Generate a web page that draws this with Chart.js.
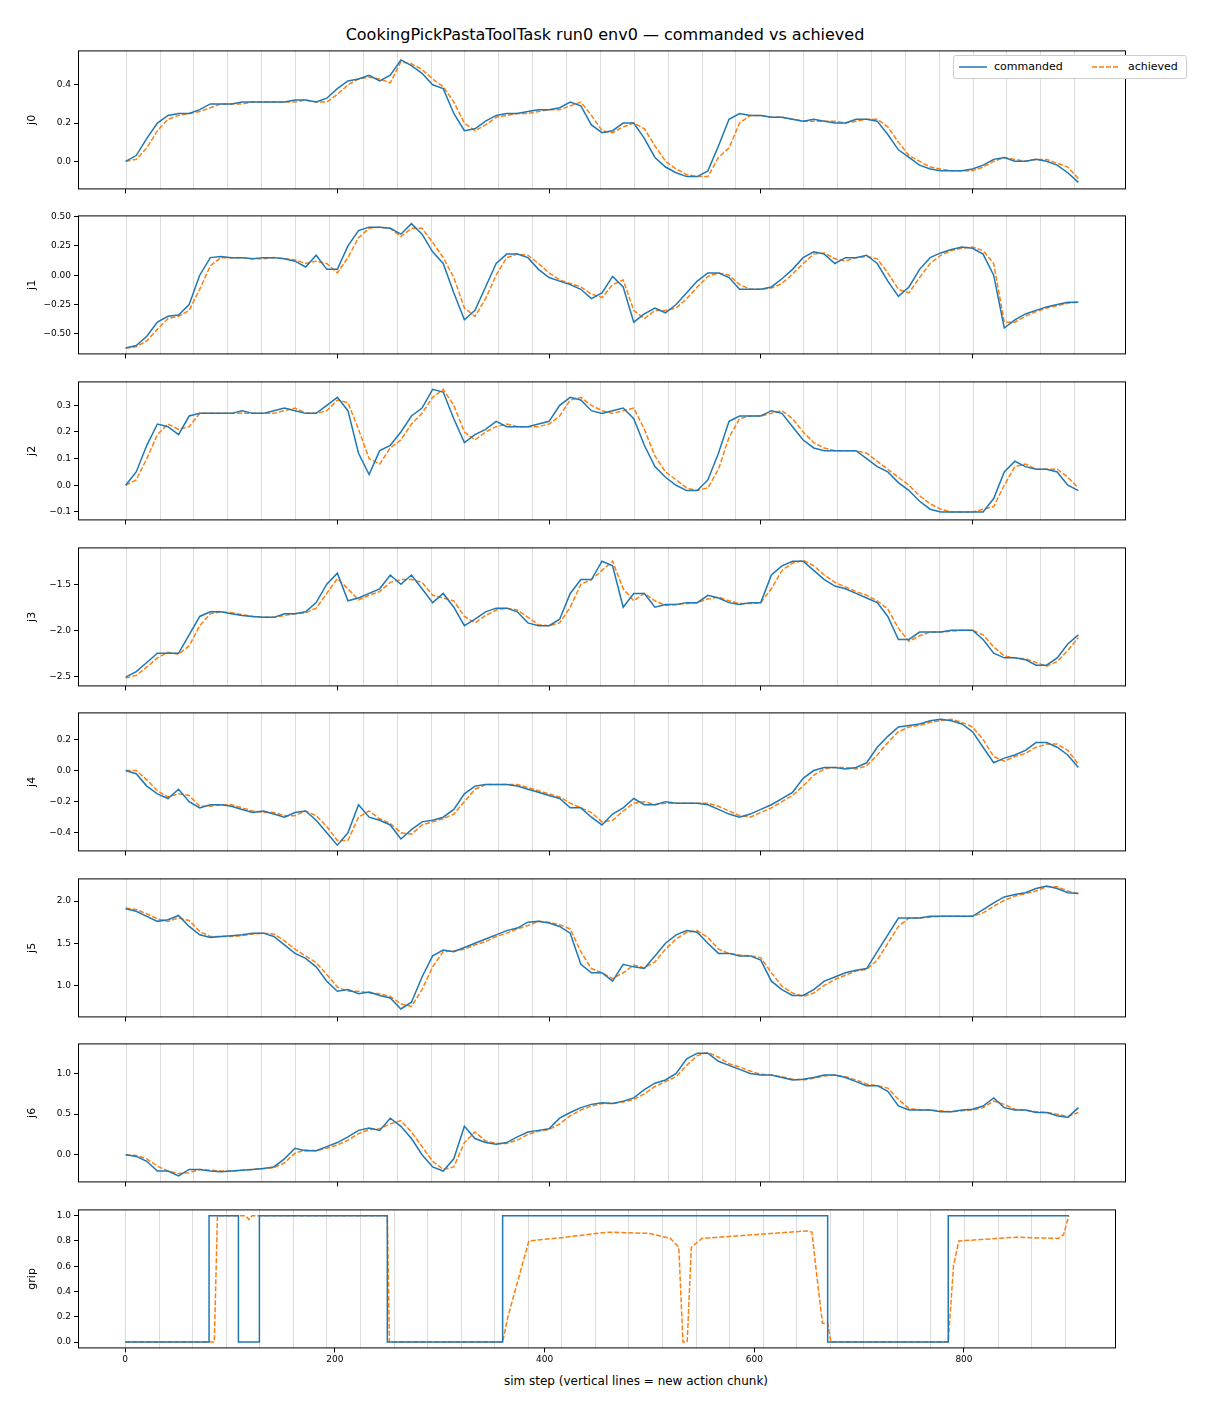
<!DOCTYPE html>
<html><head><meta charset="utf-8">
<script src="https://cdn.jsdelivr.net/npm/chart.js@4"></script>
<style>
body{margin:0;background:#fff;font-family:"DejaVu Sans",sans-serif;}
canvas{position:absolute;left:0;}
#title{position:absolute;top:25px;left:0;width:1210px;text-align:center;font-size:16px;}
#xlabel{position:absolute;top:1374px;left:78px;width:1116px;text-align:center;font-size:12px;}
#legend{position:absolute;left:953px;top:55px;width:232px;height:22px;border:1px solid #ccc;border-radius:3px;background:#fff;font-size:11px;z-index:5}
</style></head><body>
<div id="title">CookingPickPastaToolTask run0 env0 — commanded vs achieved</div>
<div id="xlabel">sim step (vertical lines = new action chunk)</div>
<div id="legend">
<svg width="232" height="22" style="position:absolute;left:0;top:0">
<line x1="5" y1="11" x2="33" y2="11" stroke="#1f77b4" stroke-width="1.5"/>
<line x1="138" y1="11" x2="166" y2="11" stroke="#ff7f0e" stroke-width="1.5" stroke-dasharray="5,2"/>
</svg>
<span style="position:absolute;left:40px;top:4px">commanded</span>
<span style="position:absolute;left:174px;top:4px">achieved</span>
</div>
<script>
const STEPS=[0,10,20,30,40,50,60,70,80,90,100,110,120,130,140,150,160,170,180,190,200,210,220,230,240,250,260,270,280,290,300,310,320,330,340,350,360,370,380,390,400,410,420,430,440,450,460,470,480,490,500,510,520,530,540,550,560,570,580,590,600,610,620,630,640,650,660,670,680,690,700,710,720,730,740,750,760,770,780,790,800,810,820,830,840,850,860,870,880,890,900];
const j0_cmd=[0.0,0.03,0.12,0.2,0.24,0.25,0.25,0.27,0.30,0.30,0.30,0.31,0.31,0.31,0.31,0.31,0.32,0.32,0.31,0.33,0.38,0.42,0.43,0.45,0.42,0.45,0.53,0.50,0.46,0.40,0.38,0.25,0.16,0.17,0.21,0.24,0.25,0.25,0.26,0.27,0.27,0.28,0.31,0.29,0.19,0.15,0.16,0.20,0.20,0.12,0.02,-0.03,-0.06,-0.08,-0.08,-0.05,0.08,0.22,0.25,0.24,0.24,0.23,0.23,0.22,0.21,0.22,0.21,0.20,0.20,0.22,0.22,0.21,0.14,0.06,0.02,-0.02,-0.04,-0.05,-0.05,-0.05,-0.04,-0.02,0.01,0.02,0.00,0.00,0.01,0.00,-0.02,-0.06,-0.11];
const j0_ach=[0,0.01,0.07,0.16,0.22,0.24,0.25,0.26,0.28,0.30,0.30,0.30,0.31,0.31,0.31,0.31,0.31,0.32,0.31,0.31,0.35,0.40,0.43,0.44,0.43,0.41,0.52,0.51,0.48,0.43,0.39,0.31,0.20,0.16,0.19,0.23,0.24,0.25,0.25,0.26,0.27,0.27,0.29,0.31,0.24,0.16,0.15,0.18,0.20,0.17,0.08,0.0,-0.04,-0.07,-0.08,-0.08,0.02,0.07,0.20,0.24,0.24,0.23,0.23,0.22,0.21,0.21,0.21,0.21,0.20,0.21,0.22,0.22,0.18,0.10,0.03,0.0,-0.03,-0.04,-0.05,-0.05,-0.05,-0.03,0.00,0.02,0.01,0.00,0.01,0.01,-0.01,-0.03,-0.09];
const j1_cmd=[-0.62,-0.60,-0.52,-0.40,-0.35,-0.34,-0.25,0.0,0.15,0.16,0.15,0.15,0.14,0.15,0.15,0.14,0.12,0.07,0.17,0.05,0.05,0.25,0.38,0.41,0.41,0.40,0.35,0.44,0.35,0.20,0.10,-0.15,-0.38,-0.30,-0.10,0.10,0.18,0.18,0.15,0.05,-0.02,-0.05,-0.08,-0.12,-0.20,-0.15,-0.01,-0.10,-0.40,-0.33,-0.28,-0.32,-0.25,-0.15,-0.05,0.02,0.02,-0.02,-0.12,-0.12,-0.12,-0.10,-0.03,0.05,0.15,0.20,0.18,0.10,0.15,0.15,0.17,0.10,-0.05,-0.18,-0.10,0.05,0.15,0.19,0.22,0.24,0.23,0.18,0.00,-0.45,-0.38,-0.33,-0.30,-0.27,-0.25,-0.23,-0.23];
const j1_ach=[-0.62,-0.61,-0.56,-0.46,-0.37,-0.35,-0.30,-0.12,0.08,0.15,0.15,0.15,0.14,0.14,0.15,0.14,0.13,0.10,0.12,0.10,0.02,0.15,0.32,0.40,0.41,0.40,0.33,0.40,0.40,0.28,0.15,-0.02,-0.28,-0.35,-0.20,0.00,0.15,0.18,0.17,0.10,0.02,-0.04,-0.07,-0.10,-0.16,-0.19,-0.08,-0.04,-0.30,-0.37,-0.30,-0.30,-0.28,-0.20,-0.10,-0.01,0.02,0.00,-0.08,-0.12,-0.12,-0.11,-0.07,0.01,0.10,0.18,0.19,0.14,0.12,0.15,0.16,0.14,0.02,-0.12,-0.15,-0.02,0.10,0.17,0.21,0.23,0.24,0.21,0.10,-0.40,-0.40,-0.35,-0.31,-0.28,-0.26,-0.24,-0.23];
const j2_cmd=[0.0,0.05,0.15,0.23,0.22,0.19,0.26,0.27,0.27,0.27,0.27,0.28,0.27,0.27,0.28,0.29,0.28,0.27,0.27,0.30,0.33,0.28,0.12,0.04,0.13,0.15,0.20,0.26,0.29,0.36,0.35,0.25,0.16,0.19,0.21,0.24,0.22,0.22,0.22,0.23,0.24,0.30,0.33,0.32,0.28,0.27,0.28,0.29,0.25,0.15,0.07,0.03,0.0,-0.02,-0.02,0.02,0.12,0.24,0.26,0.26,0.26,0.28,0.27,0.22,0.17,0.14,0.13,0.13,0.13,0.13,0.10,0.07,0.05,0.01,-0.02,-0.06,-0.09,-0.10,-0.10,-0.10,-0.10,-0.10,-0.05,0.05,0.09,0.07,0.06,0.06,0.05,0.0,-0.02];
const j2_ach=[0,0.02,0.10,0.19,0.23,0.21,0.22,0.27,0.27,0.27,0.27,0.27,0.27,0.27,0.27,0.28,0.29,0.27,0.27,0.28,0.32,0.31,0.21,0.10,0.08,0.14,0.17,0.23,0.27,0.33,0.36,0.30,0.20,0.17,0.20,0.22,0.23,0.22,0.22,0.22,0.23,0.26,0.32,0.33,0.30,0.28,0.27,0.28,0.29,0.21,0.11,0.05,0.02,-0.01,-0.02,-0.01,0.06,0.18,0.25,0.26,0.26,0.27,0.28,0.25,0.20,0.16,0.14,0.13,0.13,0.13,0.12,0.09,0.06,0.03,0.00,-0.04,-0.07,-0.09,-0.10,-0.10,-0.10,-0.09,-0.08,0.00,0.07,0.08,0.06,0.06,0.06,0.03,-0.01];
const j3_cmd=[-2.51,-2.45,-2.35,-2.25,-2.25,-2.25,-2.05,-1.85,-1.80,-1.80,-1.82,-1.84,-1.85,-1.86,-1.86,-1.82,-1.82,-1.80,-1.70,-1.50,-1.38,-1.68,-1.65,-1.60,-1.55,-1.40,-1.50,-1.40,-1.55,-1.70,-1.60,-1.75,-1.95,-1.88,-1.80,-1.76,-1.76,-1.80,-1.92,-1.95,-1.95,-1.88,-1.60,-1.45,-1.45,-1.25,-1.30,-1.75,-1.60,-1.60,-1.75,-1.72,-1.72,-1.70,-1.70,-1.62,-1.65,-1.70,-1.72,-1.70,-1.70,-1.40,-1.30,-1.25,-1.25,-1.35,-1.45,-1.52,-1.55,-1.60,-1.65,-1.70,-1.85,-2.10,-2.10,-2.02,-2.02,-2.02,-2.00,-2.00,-2.00,-2.10,-2.25,-2.30,-2.30,-2.32,-2.38,-2.38,-2.30,-2.15,-2.05];
const j3_ach=[-2.52,-2.49,-2.40,-2.30,-2.24,-2.26,-2.17,-1.95,-1.82,-1.80,-1.81,-1.83,-1.85,-1.86,-1.86,-1.84,-1.82,-1.81,-1.76,-1.60,-1.44,-1.55,-1.67,-1.62,-1.58,-1.48,-1.45,-1.45,-1.48,-1.62,-1.65,-1.68,-1.85,-1.92,-1.84,-1.78,-1.76,-1.78,-1.86,-1.94,-1.95,-1.92,-1.75,-1.50,-1.45,-1.35,-1.25,-1.55,-1.68,-1.60,-1.68,-1.73,-1.72,-1.71,-1.70,-1.66,-1.64,-1.68,-1.71,-1.71,-1.70,-1.55,-1.35,-1.27,-1.24,-1.30,-1.40,-1.48,-1.53,-1.58,-1.62,-1.68,-1.77,-1.98,-2.12,-2.06,-2.02,-2.02,-2.01,-2.00,-2.00,-2.05,-2.18,-2.28,-2.30,-2.31,-2.35,-2.39,-2.34,-2.22,-2.08];
const j4_cmd=[0.0,-0.02,-0.10,-0.15,-0.18,-0.12,-0.20,-0.24,-0.22,-0.22,-0.23,-0.25,-0.27,-0.26,-0.28,-0.30,-0.27,-0.26,-0.32,-0.40,-0.48,-0.40,-0.22,-0.30,-0.32,-0.35,-0.44,-0.38,-0.33,-0.32,-0.30,-0.25,-0.15,-0.10,-0.09,-0.09,-0.09,-0.10,-0.12,-0.14,-0.16,-0.18,-0.24,-0.24,-0.30,-0.35,-0.28,-0.24,-0.18,-0.22,-0.22,-0.20,-0.21,-0.21,-0.21,-0.22,-0.25,-0.28,-0.30,-0.28,-0.25,-0.22,-0.18,-0.14,-0.05,0.00,0.02,0.02,0.01,0.02,0.05,0.15,0.22,0.28,0.29,0.30,0.32,0.33,0.32,0.30,0.25,0.15,0.05,0.08,0.10,0.13,0.18,0.18,0.15,0.10,0.02];
const j4_ach=[0,0.0,-0.06,-0.13,-0.17,-0.15,-0.16,-0.23,-0.23,-0.22,-0.22,-0.24,-0.26,-0.27,-0.27,-0.29,-0.29,-0.26,-0.29,-0.36,-0.45,-0.45,-0.30,-0.26,-0.31,-0.34,-0.40,-0.41,-0.35,-0.33,-0.31,-0.28,-0.20,-0.12,-0.09,-0.09,-0.09,-0.09,-0.11,-0.13,-0.15,-0.17,-0.21,-0.24,-0.27,-0.33,-0.32,-0.26,-0.21,-0.20,-0.22,-0.21,-0.21,-0.21,-0.21,-0.21,-0.23,-0.26,-0.29,-0.30,-0.27,-0.24,-0.20,-0.16,-0.10,-0.03,0.01,0.02,0.02,0.01,0.03,0.10,0.18,0.25,0.28,0.29,0.31,0.32,0.33,0.31,0.28,0.20,0.09,0.06,0.09,0.11,0.15,0.17,0.17,0.13,0.04];
const j5_cmd=[1.91,1.88,1.82,1.76,1.78,1.83,1.70,1.60,1.57,1.58,1.59,1.60,1.62,1.62,1.58,1.48,1.38,1.32,1.22,1.05,0.93,0.95,0.90,0.92,0.88,0.85,0.72,0.80,1.10,1.35,1.42,1.40,1.45,1.50,1.55,1.60,1.65,1.68,1.75,1.76,1.74,1.70,1.62,1.25,1.15,1.15,1.05,1.25,1.22,1.20,1.35,1.50,1.60,1.65,1.63,1.50,1.38,1.38,1.35,1.35,1.30,1.05,0.95,0.88,0.88,0.95,1.05,1.10,1.15,1.18,1.20,1.40,1.60,1.80,1.80,1.80,1.82,1.82,1.82,1.82,1.82,1.90,1.98,2.05,2.08,2.10,2.15,2.18,2.15,2.10,2.09];
const j5_ach=[1.92,1.90,1.85,1.79,1.76,1.80,1.77,1.64,1.58,1.58,1.58,1.59,1.61,1.62,1.61,1.53,1.43,1.35,1.27,1.13,0.98,0.93,0.93,0.91,0.90,0.87,0.78,0.75,0.95,1.22,1.40,1.41,1.43,1.48,1.52,1.58,1.62,1.67,1.71,1.76,1.75,1.72,1.67,1.40,1.20,1.15,1.08,1.15,1.24,1.21,1.28,1.43,1.55,1.63,1.65,1.57,1.43,1.38,1.36,1.35,1.33,1.15,0.99,0.91,0.87,0.91,1.00,1.07,1.12,1.17,1.19,1.30,1.50,1.70,1.80,1.80,1.81,1.82,1.82,1.82,1.82,1.86,1.94,2.01,2.06,2.09,2.12,2.17,2.17,2.12,2.09];
const j6_cmd=[0.0,-0.02,-0.08,-0.20,-0.20,-0.26,-0.18,-0.18,-0.20,-0.21,-0.20,-0.19,-0.18,-0.17,-0.15,-0.05,0.08,0.05,0.05,0.10,0.15,0.22,0.30,0.33,0.30,0.45,0.35,0.20,0.00,-0.15,-0.20,-0.05,0.35,0.20,0.15,0.13,0.15,0.22,0.28,0.30,0.32,0.45,0.52,0.58,0.62,0.64,0.63,0.66,0.70,0.80,0.88,0.92,1.00,1.18,1.25,1.25,1.15,1.10,1.05,1.00,0.98,0.98,0.95,0.92,0.93,0.95,0.98,0.98,0.95,0.90,0.85,0.85,0.78,0.60,0.55,0.55,0.55,0.53,0.53,0.55,0.56,0.60,0.70,0.58,0.55,0.55,0.52,0.52,0.48,0.46,0.58];
const j6_ach=[0,-0.01,-0.05,-0.14,-0.20,-0.23,-0.22,-0.18,-0.19,-0.20,-0.20,-0.19,-0.18,-0.17,-0.16,-0.10,0.02,0.06,0.05,0.08,0.12,0.18,0.26,0.31,0.32,0.38,0.42,0.28,0.10,-0.08,-0.18,-0.15,0.15,0.28,0.17,0.14,0.14,0.18,0.25,0.29,0.31,0.38,0.48,0.55,0.60,0.63,0.63,0.65,0.68,0.75,0.84,0.90,0.96,1.10,1.22,1.26,1.20,1.12,1.08,1.03,0.99,0.98,0.96,0.93,0.92,0.94,0.97,0.98,0.96,0.92,0.87,0.85,0.82,0.68,0.57,0.55,0.55,0.54,0.53,0.54,0.55,0.58,0.66,0.62,0.56,0.55,0.53,0.52,0.50,0.47,0.52];
const grip_cmd_x=[0,80,80,108,108,128,128,250,250,360,360,670,670,785,785,900];
const grip_cmd_y=[0,0,1,1,0,0,1,1,0,0,1,1,0,0,1,1];
const grip_ach_x=[0,85,88,115,118,121,250,252,360,365,375,385,420,460,500,520,528,532,536,540,550,600,650,655,660,665,670,673,785,790,795,850,890,895,900];
const grip_ach_y=[0,0,1,1,0.97,1,1,0,0,0.2,0.5,0.8,0.83,0.87,0.86,0.82,0.75,0.0,0.0,0.75,0.82,0.85,0.88,0.87,0.5,0.15,0.15,0,0,0.6,0.8,0.83,0.82,0.85,1.0];
const X_TICKS=[0,200,400,600,800];

const M='\u2212';
const panels=[
 {name:'j0',cmd:j0_cmd,ach:j0_ach,min:-0.147,max:0.58,ticks:[0,0.2,0.4],dec:1},
 {name:'j1',cmd:j1_cmd,ach:j1_ach,min:-0.675,max:0.51,ticks:[-0.5,-0.25,0,0.25,0.5],dec:2},
 {name:'j2',cmd:j2_cmd,ach:j2_ach,min:-0.132,max:0.39,ticks:[-0.1,0,0.1,0.2,0.3],dec:1},
 {name:'j3',cmd:j3_cmd,ach:j3_ach,min:-2.61,max:-1.10,ticks:[-2.5,-2,-1.5],dec:1},
 {name:'j4',cmd:j4_cmd,ach:j4_ach,min:-0.52,max:0.374,ticks:[-0.4,-0.2,0,0.2],dec:1},
 {name:'j5',cmd:j5_cmd,ach:j5_ach,min:0.62,max:2.27,ticks:[1,1.5,2],dec:1},
 {name:'j6',cmd:j6_cmd,ach:j6_ach,min:-0.34,max:1.37,ticks:[0,0.5,1],dec:1},
 {name:'grip',min:-0.05,max:1.05,ticks:[0,0.2,0.4,0.6,0.8,1],dec:1}
];
const tops=[50,215,381,547,712,878,1043,1209];
const PH=139;
const frame={id:'frame',beforeDatasetsDraw(c){const a=c.chartArea,x=c.scales.x,ctx=c.ctx;ctx.save();ctx.strokeStyle='#dcdcdc';ctx.lineWidth=1;
 for(let s=0;s<=900;s+=32){const px=Math.round(x.getPixelForValue(s))+0.5;ctx.beginPath();ctx.moveTo(px,a.top);ctx.lineTo(px,a.bottom);ctx.stroke();}ctx.restore();},
 afterDraw(c){const a=c.chartArea,ctx=c.ctx;ctx.save();ctx.strokeStyle='#000';ctx.lineWidth=1;ctx.strokeRect(a.left+0.5,a.top+0.5,a.right-a.left-1,a.bottom-a.top-1);ctx.restore();}};
panels.forEach((p,i)=>{
 const last=i===panels.length-1;
 const xh=last?22:6;
 const cv=document.createElement('canvas');cv.width=1210;cv.height=PH+xh+20;cv.style.top=tops[i]+'px';document.body.appendChild(cv);
 let ds;
 if(p.cmd){ds=[{data:STEPS.map((s,k)=>({x:s,y:p.cmd[k]})),borderColor:'#1f77b4'},{data:STEPS.map((s,k)=>({x:s,y:p.ach[k]})),borderColor:'#ff7f0e',borderDash:[5,2]}];}
 else{ds=[{data:grip_cmd_x.map((s,k)=>({x:s,y:grip_cmd_y[k]})),borderColor:'#1f77b4'},{data:grip_ach_x.map((s,k)=>({x:s,y:grip_ach_y[k]})),borderColor:'#ff7f0e',borderDash:[5,2]}];}
 ds.forEach(d=>{d.borderWidth=1.5;d.pointRadius=0;d.tension=0;d.fill=false;});
 const ch=new Chart(cv,{type:'line',data:{datasets:ds},plugins:[frame],options:{responsive:false,animation:false,devicePixelRatio:1,
  layout:{padding:{left:26,right:16,top:0,bottom:0}},
  plugins:{legend:{display:false},tooltip:{enabled:false}},
  scales:{
   x:{type:'linear',min:-45,max:945,afterBuildTicks(a){a.ticks=X_TICKS.map(v=>({value:v}));},afterFit(a){a.height=xh;},
      grid:{display:true,drawOnChartArea:false,drawTicks:true,tickLength:4,color:'#000'},border:{display:false},
      ticks:{display:last,font:{size:9,family:'DejaVu Sans'},color:'#000',padding:2,maxRotation:0}},
   y:{min:p.min,max:p.max,afterBuildTicks(a){a.ticks=p.ticks.map(v=>({value:v}));},afterFit(a){a.width=52;},
      grid:{display:true,drawOnChartArea:false,drawTicks:true,tickLength:4,color:'#000'},border:{display:false},
      title:{display:true,text:p.name,font:{size:11,family:'DejaVu Sans'},color:'#000',padding:{top:0,bottom:4}},
      ticks:{font:{size:9,family:'DejaVu Sans'},color:'#000',padding:3,callback:v=>{const s=Math.abs(v).toFixed(p.dec);return (v<-1e-9?M:'')+s;}}}
  }}});
 // align plot area to the reference panel box
 for(let it=0;it<3;it++){
  const a=ch.chartArea;const h=a.bottom-a.top;
  if(Math.abs(h-PH)>0.5){ch.resize(1210,cv.height+(PH-h));}
 }
 cv.style.top=(tops[i]-ch.chartArea.top)+'px';
});
</script></body></html>
